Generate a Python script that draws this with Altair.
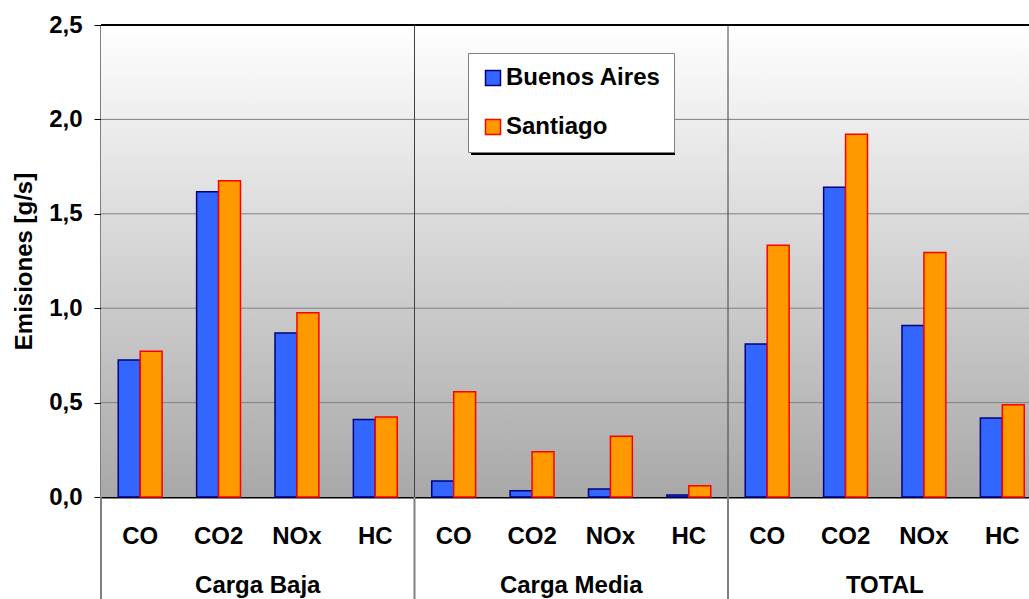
import altair as alt
import pandas as pd

groups = ["Carga Baja", "Carga Media", "TOTAL"]
pollutants = ["CO", "CO2", "NOx", "HC"]
cities = ["Buenos Aires", "Santiago"]
buenos_aires = [0.726, 1.617, 0.868, 0.410, 0.085, 0.033, 0.042, 0.010, 0.810, 1.640, 0.908, 0.419]
santiago = [0.772, 1.675, 0.976, 0.424, 0.557, 0.240, 0.322, 0.060, 1.334, 1.921, 1.295, 0.489]
y_ticks = [0.0, 0.5, 1.0, 1.5, 2.0, 2.5]
grid_vals = [0.5, 1.0, 1.5, 2.0]

rows = []
keys = []
for gi, g in enumerate(groups):
    for pi, p in enumerate(pollutants):
        idx = gi * 4 + pi
        key = f"{g}|{p}"
        keys.append(key)
        rows.append({"key": key, "Ciudad": cities[0], "valor": buenos_aires[idx]})
        rows.append({"key": key, "Ciudad": cities[1], "valor": santiago[idx]})
df = pd.DataFrame(rows)

W, H = 928, 472
RANGE = [0, 940.5]
FONT = "Liberation Sans"
FS = 24

sep_df = pd.DataFrame({"pos": [4, 8]})
below_df = pd.DataFrame({"pos": [0, 4, 8]})
grp_df = pd.DataFrame({"pos": [2, 6, 10], "grupo": groups})
grid_df = pd.DataFrame({"g": grid_vals})

def qx():
    return alt.X("pos:Q", scale=alt.Scale(domain=[0, 12], range=RANGE, nice=False, zero=False), axis=None)

legend_kw = dict(title=None, orient="none", legendX=367, legendY=28,
                 fillColor="white", strokeColor="#808080", padding=13,
                 labelFont=FONT, labelFontSize=FS, labelFontWeight="bold",
                 labelColor="black", symbolType="square", symbolSize=225,
                 symbolStrokeWidth=1.5, rowPadding=25, labelOffset=1)

bg = alt.Chart(alt.Data(values=[{"a": 1}])).mark_rect(
    color=alt.LinearGradient(gradient="linear", x1=0, y1=0, x2=0, y2=1,
                             stops=[alt.GradientStop(color="#FFFFFF", offset=0),
                                    alt.GradientStop(color="#A8A8A8", offset=1)])
).encode(x=alt.value(0), x2=alt.value(W), y=alt.value(0), y2=alt.value(H))

grid = alt.Chart(grid_df).mark_rule(color="#808080", strokeWidth=1).encode(
    y=alt.Y("g:Q")
)

bars = alt.Chart(df).mark_bar(strokeWidth=1.5).encode(
    x=alt.X("key:N", sort=keys,
            scale=alt.Scale(range=RANGE, paddingInner=0.44, paddingOuter=0.22),
            axis=alt.Axis(title=None, labelExpr="split(datum.label, '|')[1]", ticks=False,
                          labelFont=FONT, labelFontSize=FS, labelFontWeight="bold", labelColor="black",
                          labelPadding=27, labelAngle=0, domainColor="black", domainWidth=2,
                          grid=False)),
    xOffset=alt.XOffset("Ciudad:N", sort=cities),
    y=alt.Y("valor:Q", scale=alt.Scale(domain=[0, 2.5], nice=False),
            axis=alt.Axis(title="Emisiones [g/s]", values=y_ticks,
                          labelExpr="replace(format(datum.value, '.1f'), '.', ',')",
                          labelFont=FONT, labelFontSize=FS, labelFontWeight="bold", labelColor="black",
                          titleFont=FONT, titleFontSize=FS, titleFontWeight="bold", titleColor="black",
                          titlePadding=12, labelPadding=12, tickSize=7, tickColor="black",
                          domainColor="black", domainWidth=2, grid=False)),
    fill=alt.Fill("Ciudad:N", sort=cities,
                  scale=alt.Scale(domain=cities, range=["#3366FF", "#FF9900"]),
                  legend=alt.Legend(**legend_kw)),
    stroke=alt.Stroke("Ciudad:N", sort=cities,
                      scale=alt.Scale(domain=cities, range=["#000080", "#FF0000"]),
                      legend=alt.Legend(**legend_kw)),
)

shadow = alt.Chart(alt.Data(values=[{"a": 1}])).mark_rect(color="black").encode(
    x=alt.value(370), x2=alt.value(574), y=alt.value(31), y2=alt.value(130)
)

seps = alt.Chart(sep_df).mark_rule(color="#404040", strokeWidth=1).encode(
    x=qx(), y=alt.value(0), y2=alt.value(H)
)
below = alt.Chart(below_df).mark_rule(color="#808080", strokeWidth=2).encode(
    x=qx(), y=alt.value(H), y2=alt.value(H + 102)
)
glabels = alt.Chart(grp_df).mark_text(font=FONT, fontSize=FS, fontWeight="bold", color="black",
                                      baseline="middle").encode(
    x=qx(), y=alt.value(H + 89), text="grupo:N"
)
top = alt.Chart(alt.Data(values=[{"v": 2.5}])).mark_rule(color="black", strokeWidth=2).encode(
    y=alt.Y("v:Q")
)

chart = alt.layer(bg, grid, seps, bars, shadow, top, below, glabels).resolve_scale(
    x="independent"
).properties(
    width=W, height=H,
    autosize=alt.AutoSizeParams(type="none"),
    padding={"left": 101, "top": 25, "right": 0, "bottom": 102},
).configure_view(
    stroke=None
).configure(background="white")

chart.save("out.html", embed_options={"renderer": "svg", "actions": False})
